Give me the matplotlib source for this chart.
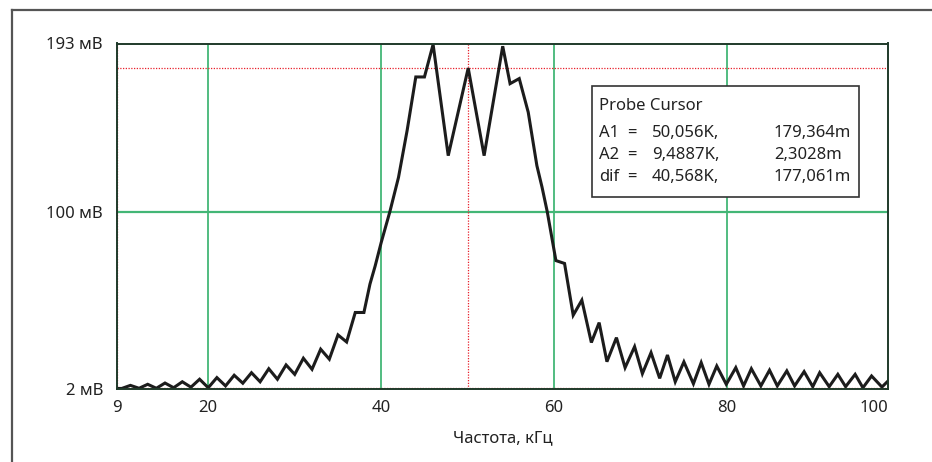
import matplotlib
matplotlib.use("Agg")
import matplotlib.pyplot as plt
from matplotlib.lines import Line2D
from matplotlib.patches import Rectangle

plt.rcParams['font.family'] = ['Noto Sans', 'DejaVu Sans']

# ---- data (frequency in kHz, amplitude in mV) ----
freq_khz = [9.49, 10, 11, 12, 13, 14, 15, 16, 17, 18, 19, 20, 21, 22, 23, 24, 25, 26,
            27, 28, 29, 30, 31, 32, 33, 34, 35, 36, 37, 38, 38.7, 39.3, 40, 41, 42,
            43, 44, 45, 46, 47.75, 50.06, 51.9, 54.05, 54.9, 55.96, 57, 58, 58.6,
            59.2, 60.2, 61.2, 62.2, 63.2, 64.3, 65.2, 66.1, 67.2, 68.2, 69.3, 70.2,
            71.2, 72.2, 73.1, 74.0, 75.0, 76.1, 77.0, 77.9, 78.8, 79.9, 81.0, 81.9,
            82.8, 83.9, 84.9, 85.8, 86.9, 87.8, 88.9, 89.9, 90.7, 91.8, 92.8, 93.7,
            94.8, 95.7, 96.7, 97.9, 98.6]
amp_mv = [2.3, 2.3, 4.0, 2.4, 4.6, 2.4, 5.3, 2.7, 6.0, 3.0, 7.4, 2.7, 8.3, 3.7, 9.6, 5.2,
          11.0, 6.0, 13.2, 7.4, 15.3, 10.1, 19.0, 12.9, 24.0, 18.5, 31.9, 28.0, 44.3,
          44.3, 60.0, 70.0, 83.0, 100.0, 119.0, 145.0, 174.5, 174.5, 192.5, 131.0,
          179.4, 131.0, 191.5, 170.8, 173.6, 155.0, 125.5, 113.5, 100.0, 73.0, 71.4,
          42.8, 51.1, 27.7, 38.7, 17.1, 30.4, 13.8, 25.4, 10.5, 22.1, 7.9, 20.8, 6.0,
          17.0, 4.9, 16.6, 4.6, 14.7, 4.6, 13.8, 3.7, 13.2, 3.7, 12.4, 3.7, 12.0, 3.7,
          11.6, 3.3, 11.0, 3.3, 10.1, 3.3, 10.1, 2.7, 9.2, 3.1, 6.4]

x_ticks = [9.45, 20, 40, 60, 80, 98.6]
x_tick_labels = ["9", "20", "40", "60", "80", "100"]
y_ticks = [2, 100, 193]
y_tick_labels = ["2 мВ", "100 мВ", "193 мВ"]
x_grid = [20, 40, 60, 80]
y_grid = [100]

cursor_a1 = (50.056, 179.364)
cursor_a2 = (9.4887, 2.3028)
box_title = "Probe Cursor"
box_rows = [("A1", "50,056K,", "179,364m"),
            ("A2", "9,4887K,", "2,3028m"),
            ("dif", "40,568K,", "177,061m")]
x_label = "Частота, кГц"

W, H = 932, 462
fig = plt.figure(figsize=(W / 100, H / 100), dpi=100)
fig.patch.set_facecolor("white")

L, R, T, B = 117, 888, 43.5, 389
ax = fig.add_axes([L / W, 1 - B / H, (R - L) / W, (B - T) / H])
ax.set_xlim(x_ticks[0], x_ticks[-1])
ax.set_ylim(2, 193)

green = "#43b676"
for gx in x_grid:
    ax.axvline(gx, color=green, lw=1.3, zorder=1)
for gy in y_grid:
    ax.axhline(gy, color=green, lw=1.6, zorder=1)

red = "#e8202c"
ax.axvline(cursor_a1[0], color=red, lw=0.9, ls=(0, (1, 1.2)), zorder=2)
ax.axhline(cursor_a1[1], color=red, lw=0.9, ls=(0, (1, 1.2)), zorder=2)
ax.axvline(cursor_a2[0], color=red, lw=0.9, ls=(0, (1, 1.2)), zorder=2, clip_on=False)
ax.axhline(cursor_a2[1], color=red, lw=0.9, ls=(0, (1, 1.2)), zorder=2)

ax.plot(freq_khz, amp_mv, color="#1c1c1c", lw=2.2, solid_joinstyle="miter", zorder=3)

for s in ax.spines.values():
    s.set_color("#1f3a2a")
    s.set_linewidth(1.4)
    s.set_zorder(4)

fs = 12
ax.set_xticks(x_ticks)
ax.set_xticklabels(x_tick_labels, fontsize=fs, color="#222222")
ax.get_xticklabels()[-1].set_ha("right")
ax.set_yticks(y_ticks)
ax.set_yticklabels(y_tick_labels, fontsize=fs, color="#222222")
ax.tick_params(axis="both", length=0)
ax.tick_params(axis="x", pad=8)
ax.tick_params(axis="y", pad=10)
ax.set_xlabel(x_label, fontsize=fs, color="#222222", labelpad=10)

# cursor info box (figure pixel coordinates)
def fx(px):
    return px / W

def fy(py):
    return 1 - py / H

bx0, by0, bx1, by1 = 592, 86, 859, 197
fig.add_artist(Rectangle((fx(bx0), fy(by1)), fx(bx1) - fx(bx0), fy(by0) - fy(by1),
                         transform=fig.transFigure, facecolor="white",
                         edgecolor="#333333", lw=1.2, zorder=10))
fig.text(fx(599), fy(106), box_title, fontsize=fs, va="center", ha="left",
         color="#222222", zorder=11)
for i, (lab, v1, v2) in enumerate(box_rows):
    yy = fy(133 + 22 * i)
    fig.text(fx(599), yy, lab, fontsize=fs, va="center", ha="left", color="#222222", zorder=11)
    fig.text(fx(627), yy, "=", fontsize=fs, va="center", ha="left", color="#222222", zorder=11)
    fig.text(fx(652), yy, v1, fontsize=fs, va="center", ha="left", color="#222222", zorder=11)
    fig.text(fx(774), yy, v2, fontsize=fs, va="center", ha="left", color="#222222", zorder=11)

# outer frame lines (top and left)
fig.add_artist(Line2D([fx(12), fx(931)], [fy(10), fy(10)], transform=fig.transFigure,
                      color="#555555", lw=1.6))
fig.add_artist(Line2D([fx(12), fx(12)], [fy(10), fy(462)], transform=fig.transFigure,
                      color="#555555", lw=1.6))

fig.savefig("out.png", dpi=100)
